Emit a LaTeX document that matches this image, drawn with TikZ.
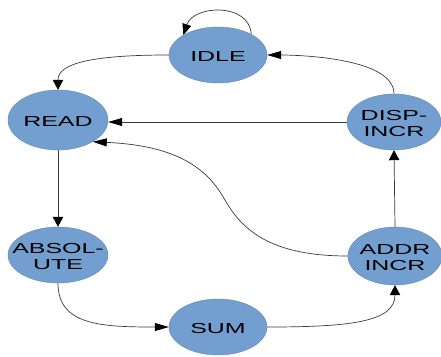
\documentclass[tikz,border=0pt]{standalone}
\usepackage{fontspec}
\setmainfont{Liberation Sans}
\usetikzlibrary{shapes.geometric,arrows.meta}
\definecolor{nodeblue}{HTML}{729FCF}
\definecolor{edgegray}{HTML}{3A3A3A}
\newcommand\statetext[1]{\makebox[0pt]{\raisebox{0pt}[\dimexpr\height+7pt\relax]{\scalebox{1.72}[1]{\fontsize{14.5}{15.5}\selectfont\begin{tabular}{@{}c@{}}#1\end{tabular}}}}}
\begin{document}
\begin{tikzpicture}[x=1pt,y=-1pt,
  state/.style={ellipse, fill=nodeblue, draw=nodeblue!85!black, line width=0.4pt, inner sep=0pt},
  edge/.style={draw=edgegray, line width=0.7pt},
  harrow/.style={-{Triangle[length=14pt,width=8pt,color=black]}},
  varrow/.style={-{Triangle[length=10pt,width=10.5pt,color=black]}},
  darrow/.style={-{Triangle[length=11pt,width=9pt,color=black]}}]
\useasboundingbox (0,0) rectangle (441,356);
\node[state, minimum width=98pt, minimum height=56pt] (idle) at (218,55) {\statetext{IDLE}};
\node[state, minimum width=100pt, minimum height=60pt] (read) at (58,120) {\statetext{READ}};
\node[state, minimum width=94pt, minimum height=56pt] (disp) at (394,122) {\statetext{DISP-\\INCR}};
\node[state, minimum width=100pt, minimum height=56pt] (absol) at (58,255) {\statetext{ABSOL-\\UTE}};
\node[state, minimum width=94pt, minimum height=58pt] (addr) at (395,256) {\statetext{ADDR\\INCR}};
\node[state, minimum width=98pt, minimum height=56pt] (sum) at (218,327) {\statetext{SUM}};
\coordinate (bend) at (225,200);
\draw[edge, darrow] (idle.32) .. controls +(-2,-32) and +(10,-30) .. (idle.150);
\draw[edge, varrow] (idle.west) .. controls +(-79,0) and +(0,-26) .. (read.north);
\draw[edge, harrow] (disp.north) .. controls +(0,-37) and +(26,0) .. (idle.east);
\draw[edge, harrow] (disp.west) -- (disp.west -| read.east);
\draw[edge, varrow] (addr.north) -- (disp.south);
\draw[edge, varrow] (read.south) -- (absol.north);
\draw[edge, harrow] (absol.south) .. controls +(0,42) and +(-68,0) .. (sum.west);
\draw[edge, varrow] (sum.east) .. controls +(82,0) and +(0,37) .. (addr.south);
\draw[edge, harrow] (addr.west) .. controls +(-77,0) and +(17,30) .. (bend) .. controls +(-17,-30) and +(87,4) .. (read.-32);
\end{tikzpicture}
\end{document}
